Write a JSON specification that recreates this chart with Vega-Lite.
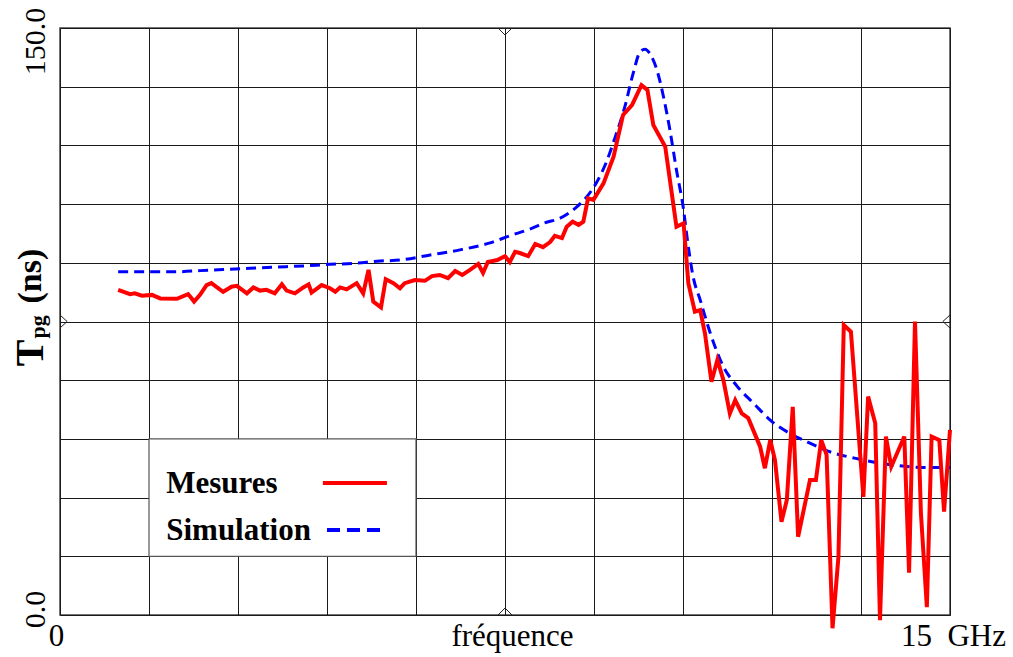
{
  "$schema": "https://vega.github.io/schema/vega-lite/v6.json",
  "width": 890,
  "height": 587,
  "autosize": {"type": "none"},
  "padding": {"left": 60, "top": 28, "right": 63, "bottom": 42},
  "background": "white",
  "config": {"view": {"stroke": "#444", "strokeWidth": 1.5}, "font": "Liberation Serif"},
  "datasets": {
    "mesures": [
      {"f":0.98,"t":83.1},{"f":1.18,"t":82.0},{"f":1.26,"t":82.2},{"f":1.38,"t":81.6},{"f":1.55,"t":81.8},{"f":1.69,"t":80.9},{"f":1.97,"t":80.8},{"f":2.16,"t":82.0},{"f":2.26,"t":80.1},{"f":2.36,"t":81.8},{"f":2.47,"t":84.3},{"f":2.55,"t":84.8},{"f":2.75,"t":82.6},{"f":2.89,"t":83.9},{"f":2.98,"t":84.1},{"f":3.15,"t":82.2},{"f":3.26,"t":83.7},{"f":3.37,"t":82.9},{"f":3.48,"t":83.1},{"f":3.62,"t":82.2},{"f":3.74,"t":84.5},{"f":3.82,"t":82.9},{"f":3.96,"t":82.2},{"f":4.10,"t":83.7},{"f":4.19,"t":84.5},{"f":4.24,"t":82.4},{"f":4.41,"t":84.3},{"f":4.55,"t":83.5},{"f":4.64,"t":82.6},{"f":4.72,"t":83.7},{"f":4.83,"t":83.2},{"f":5.00,"t":84.8},{"f":5.11,"t":82.2},{"f":5.20,"t":88.2},{"f":5.28,"t":80.1},{"f":5.41,"t":78.6},{"f":5.49,"t":85.8},{"f":5.62,"t":84.8},{"f":5.73,"t":83.5},{"f":5.81,"t":84.8},{"f":5.98,"t":85.6},{"f":6.15,"t":85.4},{"f":6.27,"t":86.6},{"f":6.40,"t":86.9},{"f":6.54,"t":86.1},{"f":6.66,"t":87.9},{"f":6.78,"t":86.9},{"f":6.91,"t":88.2},{"f":7.05,"t":89.7},{"f":7.13,"t":87.4},{"f":7.21,"t":90.2},{"f":7.37,"t":90.7},{"f":7.50,"t":91.7},{"f":7.58,"t":90.2},{"f":7.67,"t":92.8},{"f":7.75,"t":92.5},{"f":7.89,"t":91.7},{"f":8.01,"t":94.8},{"f":8.14,"t":94.0},{"f":8.26,"t":95.3},{"f":8.34,"t":96.9},{"f":8.46,"t":96.3},{"f":8.54,"t":99.2},{"f":8.64,"t":100.5},{"f":8.74,"t":99.7},{"f":8.82,"t":100.5},{"f":8.90,"t":106.5},{"f":8.99,"t":106.1},{"f":9.16,"t":110.3},{"f":9.33,"t":117.1},{"f":9.49,"t":127.8},{"f":9.64,"t":130.3},{"f":9.80,"t":135.4},{"f":9.90,"t":134.2},{"f":10.00,"t":125.2},{"f":10.20,"t":119.7},{"f":10.39,"t":99.2},{"f":10.51,"t":100.1},{"f":10.59,"t":84.8},{"f":10.70,"t":77.5},{"f":10.79,"t":77.9},{"f":10.87,"t":72.0},{"f":10.98,"t":59.6},{"f":11.08,"t":65.2},{"f":11.18,"t":60.1},{"f":11.29,"t":51.5},{"f":11.38,"t":54.9},{"f":11.49,"t":51.5},{"f":11.60,"t":50.3},{"f":11.74,"t":45.2},{"f":11.80,"t":43.0},{"f":11.88,"t":37.5},{"f":11.97,"t":44.7},{"f":12.05,"t":39.6},{"f":12.16,"t":23.8},{"f":12.25,"t":29.4},{"f":12.35,"t":53.2},{"f":12.44,"t":20.0},{"f":12.64,"t":34.5},{"f":12.74,"t":34.5},{"f":12.83,"t":44.7},{"f":12.92,"t":40.9},{"f":13.02,"t":-3.4},{"f":13.12,"t":14.9},{"f":13.21,"t":74.1},{"f":13.33,"t":72.4},{"f":13.54,"t":30.2},{"f":13.62,"t":55.8},{"f":13.74,"t":49.0},{"f":13.82,"t":-1.3},{"f":13.92,"t":45.6},{"f":14.01,"t":37.9},{"f":14.23,"t":45.6},{"f":14.31,"t":10.8},{"f":14.41,"t":75.0},{"f":14.51,"t":26.0},{"f":14.61,"t":2.0},{"f":14.69,"t":45.6},{"f":14.82,"t":44.7},{"f":14.90,"t":26.4},{"f":15.00,"t":47.3}
    ],
    "simulation": [
      {"f":0.98,"t":87.7},{"f":1.52,"t":87.7},{"f":1.97,"t":87.7},{"f":2.36,"t":88.0},{"f":2.75,"t":88.3},{"f":3.20,"t":88.6},{"f":3.65,"t":88.9},{"f":4.10,"t":89.2},{"f":4.55,"t":89.6},{"f":5.00,"t":89.9},{"f":5.34,"t":90.4},{"f":5.73,"t":90.7},{"f":6.24,"t":92.0},{"f":6.74,"t":93.3},{"f":7.25,"t":95.1},{"f":7.58,"t":96.9},{"f":7.92,"t":98.6},{"f":8.17,"t":100.2},{"f":8.43,"t":101.4},{"f":8.71,"t":104.3},{"f":8.88,"t":106.9},{"f":9.05,"t":110.7},{"f":9.21,"t":115.8},{"f":9.35,"t":121.8},{"f":9.52,"t":129.9},{"f":9.66,"t":138.4},{"f":9.78,"t":144.0},{"f":9.86,"t":144.6},{"f":9.94,"t":143.5},{"f":10.06,"t":139.3},{"f":10.17,"t":132.5},{"f":10.28,"t":123.9},{"f":10.39,"t":113.7},{"f":10.51,"t":103.5},{"f":10.56,"t":97.5},{"f":10.67,"t":86.5},{"f":10.79,"t":80.5},{"f":10.96,"t":72.0},{"f":11.18,"t":63.5},{"f":11.41,"t":58.5},{"f":11.69,"t":54.1},{"f":11.97,"t":49.8},{"f":12.30,"t":46.4},{"f":12.60,"t":44.2},{"f":12.92,"t":42.0},{"f":13.48,"t":39.8},{"f":14.05,"t":38.3},{"f":14.61,"t":37.7},{"f":15.00,"t":37.7}
    ],
    "legende": [
      {"serie": "Mesures", "tx": 1.79, "ty": 31.2, "lx": 4.43, "lx2": 5.51, "ly": 33.7},
      {"serie": "Simulation", "tx": 1.79, "ty": 19.2, "lx": 4.5, "lx2": 5.44, "ly": 21.7}
    ]
  },
  "layer": [
    {
      "data": {"name": "simulation"},
      "mark": {"type": "line", "color": "#0000ff", "strokeWidth": 3, "strokeDash": [10, 6], "interpolate": "monotone", "clip": false},
      "encoding": {
        "x": {
          "field": "f", "type": "quantitative",
          "scale": {"domain": [0, 15], "nice": false, "zero": false},
          "axis": {
            "values": [0, 1.5, 3, 4.5, 6, 7.5, 9, 10.5, 12, 13.5, 15],
            "grid": true, "gridColor": "#1a1a1a", "gridWidth": 1, "gridOpacity": 1,
            "domain": false, "ticks": false, "title": null,
            "labelExpr": "datum.value == 0 ? '0' : datum.value == 7.5 ? 'fréquence' : datum.value == 15 ? '15\u00a0\u00a0GHz' : ''",
            "labelFont": "Liberation Serif", "labelFontSize": 31, "labelColor": "black",
            "labelPadding": 6, "labelFlush": false, "labelOverlap": false, "labelBound": false,
            "labelOffset": {"condition": [{"test": "datum.value == 7.5", "value": 7}, {"test": "datum.value == 0", "value": -4}], "value": 3}
          }
        },
        "y": {
          "field": "t", "type": "quantitative",
          "scale": {"domain": [0, 150], "nice": false, "zero": false},
          "axis": {
            "values": [0, 15, 30, 45, 60, 75, 90, 105, 120, 135, 150],
            "grid": true, "gridColor": "#1a1a1a", "gridWidth": 1, "gridOpacity": 1,
            "domain": false, "ticks": false, "title": null,
            "labelExpr": "datum.value == 150 ? '150.0' : datum.value == 0 ? '0.0' : ''",
            "labelFont": "Liberation Serif", "labelFontSize": 30, "labelColor": "black",
            "labelAngle": -90, "labelPadding": 10, "labelFlush": false, "labelOverlap": false, "labelBound": false,
            "labelOffset": {"condition": {"test": "datum.value == 150", "value": 13}, "value": -6}
          }
        }
      }
    },
    {
      "data": {"name": "mesures"},
      "mark": {"type": "line", "color": "#ff0000", "strokeWidth": 4, "clip": false},
      "encoding": {
        "x": {"field": "f", "type": "quantitative"},
        "y": {"field": "t", "type": "quantitative"}
      }
    },
    {
      "data": {"values": [{"cadre": "legende"}]},
      "mark": {"type": "rect", "fill": "white", "stroke": "#555", "strokeWidth": 1.2},
      "encoding": {"x": {"datum": 1.5, "type": "quantitative"}, "x2": {"datum": 6}, "y": {"datum": 15, "type": "quantitative"}, "y2": {"datum": 45}}
    },
    {
      "data": {"name": "legende"},
      "mark": {"type": "text", "font": "Liberation Serif", "fontWeight": "bold", "fontSize": 31, "align": "left", "baseline": "alphabetic", "color": "black"},
      "encoding": {"x": {"field": "tx", "type": "quantitative"}, "y": {"field": "ty", "type": "quantitative"}, "text": {"field": "serie"}}
    },
    {
      "data": {"name": "legende"},
      "mark": {"type": "rule", "strokeWidth": 4},
      "encoding": {
        "x": {"field": "lx", "type": "quantitative"}, "x2": {"field": "lx2"}, "y": {"field": "ly", "type": "quantitative"},
        "color": {"field": "serie", "type": "nominal", "scale": {"domain": ["Mesures", "Simulation"], "range": ["#ff0000", "#0000ff"]}, "legend": null},
        "strokeDash": {"field": "serie", "type": "nominal", "scale": {"domain": ["Mesures", "Simulation"], "range": [[1, 0], [13, 7]]}, "legend": null},
        "strokeWidth": {"field": "serie", "type": "nominal", "scale": {"domain": ["Mesures", "Simulation"], "range": [4, 3]}, "legend": null}
      }
    },
    {
      "data": {"values": [{"titre": "T"}]},
      "mark": {"type": "text", "font": "Liberation Serif", "fontWeight": "bold", "fontSize": 40, "angle": 270, "align": "center", "baseline": "alphabetic", "color": "black", "clip": false},
      "encoding": {"x": {"datum": -0.29, "type": "quantitative"}, "y": {"datum": 67.0, "type": "quantitative"}, "text": {"field": "titre"}}
    },
    {
      "data": {"values": [{"titre": "pg"}]},
      "mark": {"type": "text", "font": "Liberation Serif", "fontWeight": "bold", "fontSize": 22, "angle": 270, "align": "center", "baseline": "alphabetic", "color": "black", "clip": false},
      "encoding": {"x": {"datum": -0.25, "type": "quantitative"}, "y": {"datum": 73.6, "type": "quantitative"}, "text": {"field": "titre"}}
    },
    {
      "data": {"values": [{"titre": "(ns)"}]},
      "mark": {"type": "text", "font": "Liberation Serif", "fontWeight": "bold", "fontSize": 34, "angle": 270, "align": "center", "baseline": "alphabetic", "color": "black", "clip": false},
      "encoding": {"x": {"datum": -0.32, "type": "quantitative"}, "y": {"datum": 86.6, "type": "quantitative"}, "text": {"field": "titre"}}
    },
    {
      "data": {"values": [{"repere": "haut"}]},
      "mark": {"type": "point", "shape": "M-1,0L0,1L1,0", "filled": false, "stroke": "#222", "strokeWidth": 1, "size": 196, "opacity": 1},
      "encoding": {"x": {"datum": 7.5, "type": "quantitative"}, "y": {"datum": 150, "type": "quantitative"}}
    },
    {
      "data": {"values": [{"repere": "bas"}]},
      "mark": {"type": "point", "shape": "M-1,0L0,-1L1,0", "filled": false, "stroke": "#222", "strokeWidth": 1, "size": 196, "opacity": 1},
      "encoding": {"x": {"datum": 7.5, "type": "quantitative"}, "y": {"datum": 0, "type": "quantitative"}}
    },
    {
      "data": {"values": [{"repere": "gauche"}]},
      "mark": {"type": "point", "shape": "M0,-1L1.1,0L0,1", "filled": false, "stroke": "#222", "strokeWidth": 1, "size": 169, "opacity": 1},
      "encoding": {"x": {"datum": 0, "type": "quantitative"}, "y": {"datum": 75, "type": "quantitative"}}
    },
    {
      "data": {"values": [{"repere": "droite"}]},
      "mark": {"type": "point", "shape": "M0,-1L-1.1,0L0,1", "filled": false, "stroke": "#222", "strokeWidth": 1, "size": 169, "opacity": 1},
      "encoding": {"x": {"datum": 15, "type": "quantitative"}, "y": {"datum": 75, "type": "quantitative"}}
    }
  ]
}
